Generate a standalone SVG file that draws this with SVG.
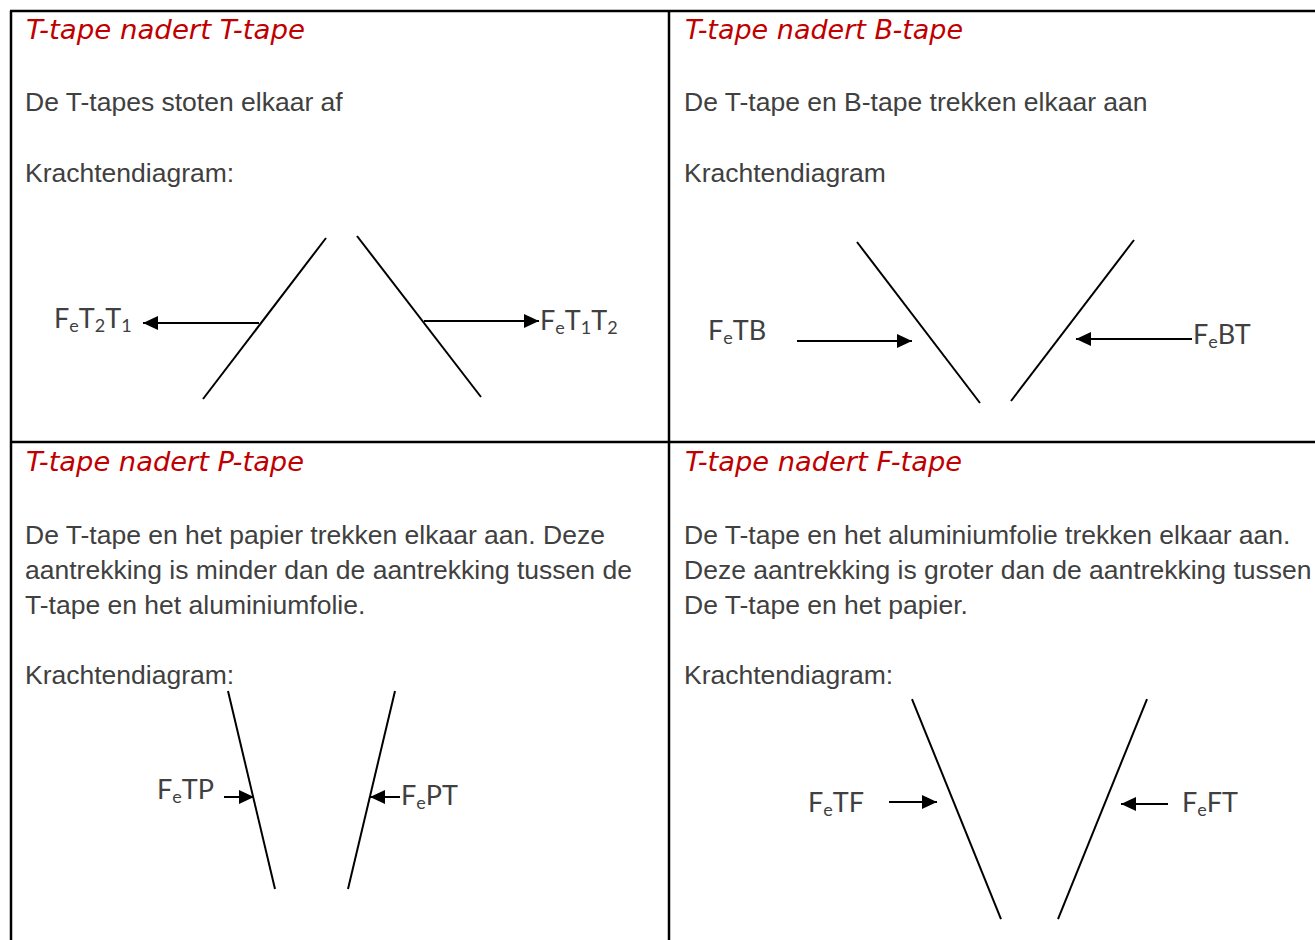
<svg xmlns="http://www.w3.org/2000/svg" width="1315" height="940" viewBox="0 0 1315 940">
<defs>
<style>
.title{font-family:"DejaVu Sans",sans-serif;font-style:italic;font-size:26px;fill:#c00000}
.body{font-family:"Liberation Sans",Arial,sans-serif;font-size:26.5px;fill:#404040}
.lab{font-family:Lato,"Noto Sans",sans-serif;font-size:27px;fill:#404040}
.sub{font-size:18px}
.tape{stroke:#000;stroke-width:2;fill:none}
.arr{stroke:#000;stroke-width:2;fill:none;marker-end:url(#ah)}
.grid{stroke:#000;stroke-width:2.5;fill:none}
</style>
<marker id="ah" markerUnits="userSpaceOnUse" markerWidth="16" markerHeight="14" refX="15" refY="7" orient="auto">
<path d="M0,0 L15,7 L0,14 Z" fill="#000"/>
</marker>
</defs>
<rect width="1315" height="940" fill="#fff"/>
<g id="table">
<line class="grid" x1="10" y1="11" x2="1315" y2="11"/>
<line class="grid" x1="11" y1="11" x2="11" y2="940"/>
<line class="grid" x1="669" y1="11" x2="669" y2="940"/>
<line class="grid" x1="10" y1="442" x2="1315" y2="442"/>
</g>
<g id="panel1">
<text class="title" x="26" y="39" textLength="279" lengthAdjust="spacingAndGlyphs">T-tape nadert T-tape</text>
<text class="body" x="25" y="111">De T-tapes stoten elkaar af</text>
<text class="body" x="25" y="182">Krachtendiagram:</text>
<line class="tape" x1="326" y1="238" x2="203" y2="399"/>
<line class="tape" x1="357" y1="236" x2="481" y2="397"/>
<text class="lab" x="54" y="328">F<tspan class="sub" dy="4">e</tspan><tspan dy="-4">T</tspan><tspan class="sub" dy="4">2</tspan><tspan dy="-4">T</tspan><tspan class="sub" dy="4">1</tspan></text>
<text class="lab" x="540" y="330">F<tspan class="sub" dy="4">e</tspan><tspan dy="-4">T</tspan><tspan class="sub" dy="4">1</tspan><tspan dy="-4">T</tspan><tspan class="sub" dy="4">2</tspan></text>
</g>
<g id="panel2">
<text class="title" x="685" y="39" textLength="278" lengthAdjust="spacingAndGlyphs">T-tape nadert B-tape</text>
<text class="body" x="684" y="111">De T-tape en B-tape trekken elkaar aan</text>
<text class="body" x="684" y="182">Krachtendiagram</text>
<line class="tape" x1="857" y1="242" x2="980" y2="403"/>
<line class="tape" x1="1134" y1="240" x2="1011" y2="401"/>
<text class="lab" x="708" y="340">F<tspan class="sub" dy="4">e</tspan><tspan dy="-4">TB</tspan></text>
<text class="lab" x="1193" y="344">F<tspan class="sub" dy="4">e</tspan><tspan dy="-4">BT</tspan></text>
</g>
<g id="panel3">
<text class="title" x="26" y="471" textLength="278" lengthAdjust="spacingAndGlyphs">T-tape nadert P-tape</text>
<text class="body" x="25" y="544">De T-tape en het papier trekken elkaar aan. Deze</text>
<text class="body" x="25" y="579">aantrekking is minder dan de aantrekking tussen de</text>
<text class="body" x="25" y="614">T-tape en het aluminiumfolie.</text>
<text class="body" x="25" y="684">Krachtendiagram:</text>
<line class="tape" x1="228" y1="691" x2="275" y2="889"/>
<line class="tape" x1="395" y1="691" x2="348" y2="889"/>
<text class="lab" x="157" y="799">F<tspan class="sub" dy="4">e</tspan><tspan dy="-4">TP</tspan></text>
<text class="lab" x="401" y="805">F<tspan class="sub" dy="4">e</tspan><tspan dy="-4">PT</tspan></text>
</g>
<g id="panel4">
<text class="title" x="685" y="471" textLength="277" lengthAdjust="spacingAndGlyphs">T-tape nadert F-tape</text>
<text class="body" x="684" y="544">De T-tape en het aluminiumfolie trekken elkaar aan.</text>
<text class="body" x="684" y="579">Deze aantrekking is groter dan de aantrekking tussen</text>
<text class="body" x="684" y="614">De T-tape en het papier.</text>
<text class="body" x="684" y="684">Krachtendiagram:</text>
<line class="tape" x1="912" y1="699" x2="1001" y2="919"/>
<line class="tape" x1="1147" y1="699" x2="1058" y2="919"/>
<text class="lab" x="808" y="812">F<tspan class="sub" dy="4">e</tspan><tspan dy="-4">TF</tspan></text>
<text class="lab" x="1182" y="812">F<tspan class="sub" dy="4">e</tspan><tspan dy="-4">FT</tspan></text>
</g>
<g id="connectors">
<line class="arr" x1="259" y1="323" x2="143" y2="323"/>
<line class="arr" x1="424" y1="321" x2="539" y2="321"/>
<line class="arr" x1="797" y1="341" x2="912" y2="341"/>
<line class="arr" x1="1192" y1="339" x2="1076" y2="339"/>
<line class="arr" x1="224" y1="797" x2="254" y2="797"/>
<line class="arr" x1="400" y1="797" x2="370" y2="797"/>
<line class="arr" x1="889" y1="802" x2="937" y2="802"/>
<line class="arr" x1="1168" y1="804" x2="1121" y2="804"/>
</g>
</svg>
